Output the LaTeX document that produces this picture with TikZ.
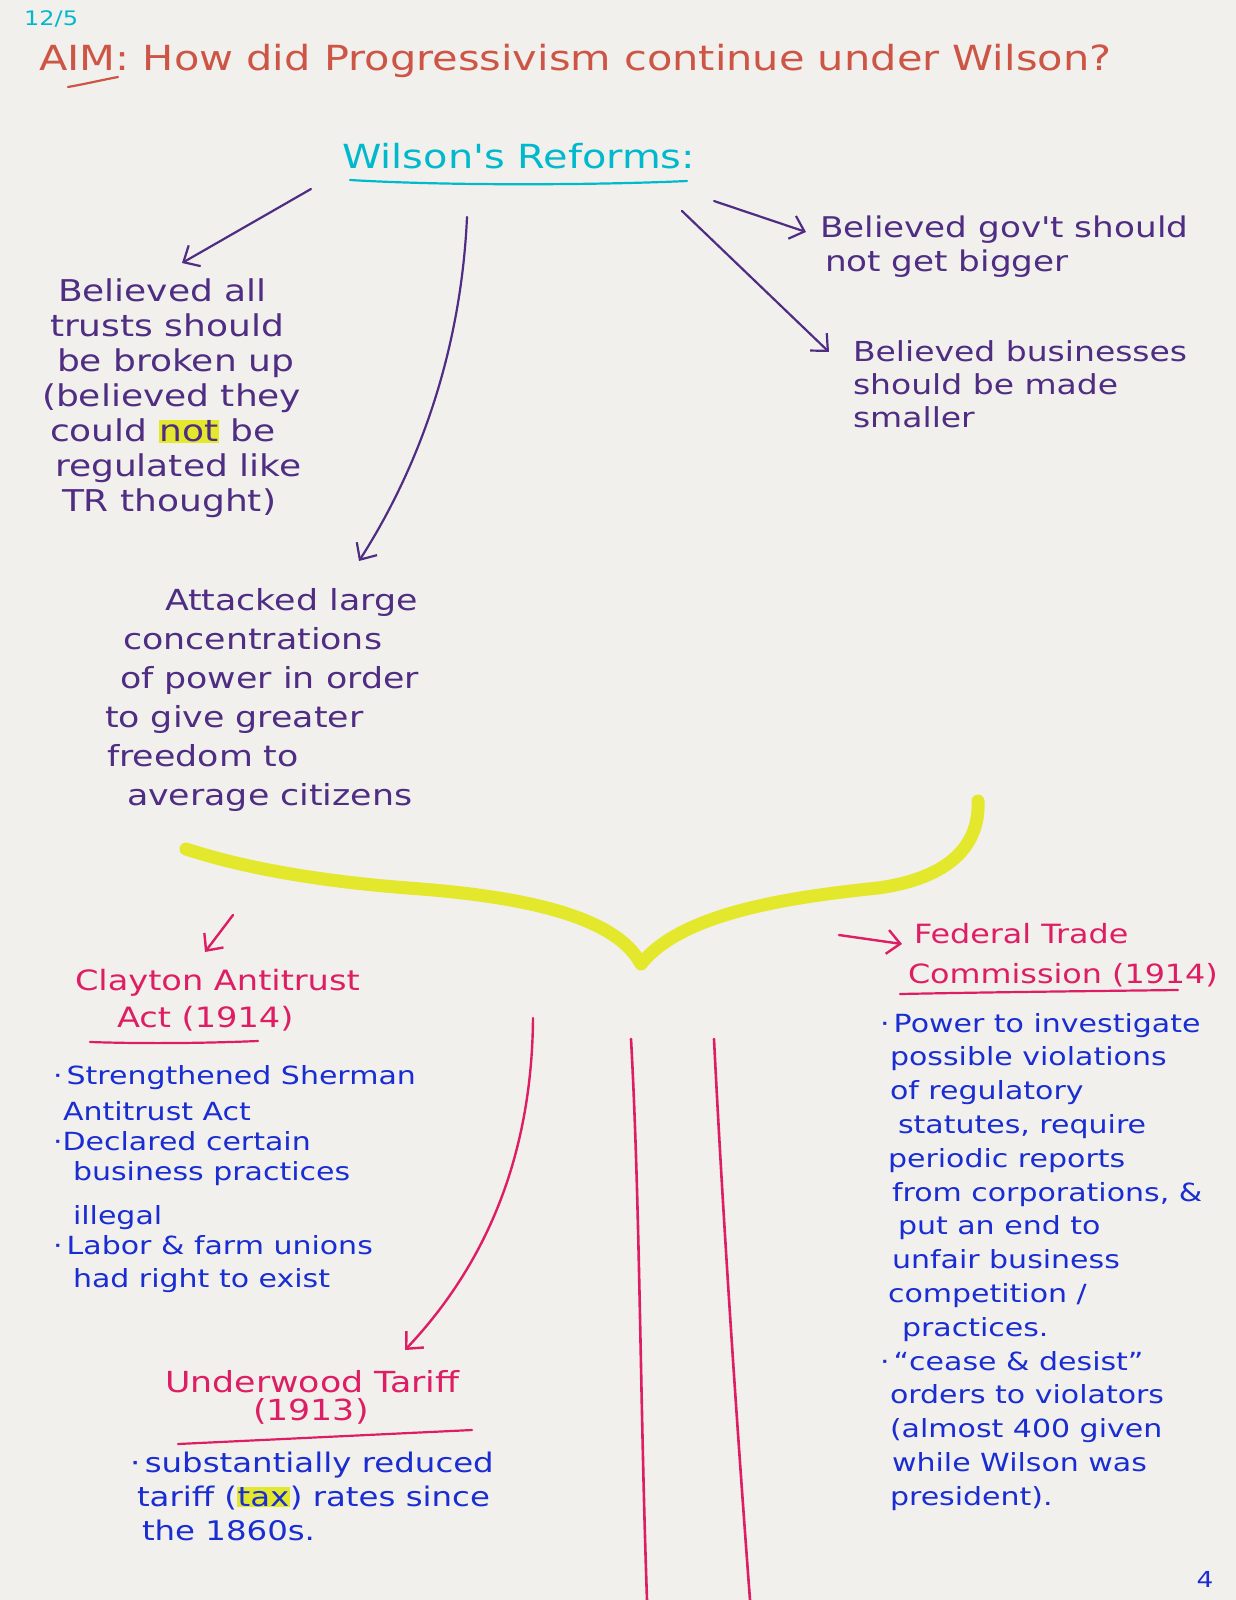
\documentclass[tikz,border=0pt]{standalone}
\usepackage{fontspec}
\setmainfont{DejaVu Sans}
\newfontfamily\hand{DejaVu Sans}[FakeStretch=1.2]
\usetikzlibrary{arrows.meta}
\definecolor{paper}{RGB}{242,240,237}
\definecolor{titlered}{RGB}{205,85,70}
\definecolor{cyanink}{RGB}{0,185,205}
\definecolor{purpink}{RGB}{78,45,130}
\definecolor{hiyel}{RGB}{228,232,45}
\definecolor{pinkink}{RGB}{222,30,100}
\definecolor{blueink}{RGB}{25,45,210}
\setlength{\fboxsep}{0.5pt}
\newcommand{\hilite}[1]{\colorbox{hiyel}{#1}}
\begin{document}
\begin{tikzpicture}[x=1pt,y=-1pt,
  txt/.style={inner sep=0pt, outer sep=0pt, align=left, anchor=north west},
  purptxt/.style={txt, text=purpink, font=\hand\fontsize{30}{35}\selectfont},
  pinktxt/.style={txt, text=pinkink, font=\hand\fontsize{28}{37}\selectfont},
  bluetxt/.style={txt, text=blueink, font=\hand\fontsize{25}{34}\selectfont},
  parrow/.style={draw=purpink, line width=2.2pt, line cap=round, line join=round, -{Straight Barb[length=13pt,width=24pt]}},
  marrow/.style={draw=pinkink, line width=2.4pt, line cap=round, line join=round, -{Straight Barb[length=13pt,width=24pt]}},
  mline/.style={draw=pinkink, line width=2.6pt, line cap=round},
  uline/.style={line width=2.2pt, line cap=round},
]
\fill[paper] (0,0) rectangle (1236,1600);
\useasboundingbox (0,0) rectangle (1236,1600);

% header
\node[anchor=base west, inner sep=0pt, text=cyanink, font=\hand\fontsize{20}{22}\selectfont] (date) at (24,26) {12/5};
\node[anchor=base west, inner sep=0pt, text=titlered, font=\hand\fontsize{34.6}{40}\selectfont] (title) at (39,71) {AIM: How did Progressivism continue under Wilson?};
\draw[uline, draw=titlered] (68,87) .. controls (85,84) and (102,80) .. (118,77);

% heading
\node[anchor=base west, inner sep=0pt, text=cyanink, font=\hand\fontsize{33.2}{38}\selectfont] (head) at (342,168) {Wilson's Reforms:};
\draw[uline, draw=cyanink] (350,180) .. controls (450,186) and (600,185) .. (687,181);

% purple blocks
\node[purptxt] (trusts) at (42,279) {\hspace*{16pt}Believed all\\\hspace*{8pt}trusts should\\\hspace*{15pt}be broken up\\(believed they\\\hspace*{8pt}could \hilite{not} be\\\hspace*{13pt}regulated like\\\hspace*{20pt}TR thought)};
\node[purptxt, font=\hand\fontsize{29}{39}\selectfont] (power) at (105,588) {\hspace*{60pt}Attacked large\\\hspace*{18pt}concentrations\\\hspace*{15pt}of power in order\\to give greater\\\hspace*{2pt}freedom to\\\hspace*{22pt}average citizens};
\node[purptxt, font=\hand\fontsize{28.5}{34}\selectfont] (gov) at (820,216) {Believed gov't should\\\hspace*{5pt}not get bigger};
\node[purptxt, font=\hand\fontsize{27.5}{33}\selectfont] (biz) at (853,341) {Believed businesses\\should be made\\smaller};

% purple arrows
\coordinate (a1s) at (311,189); \coordinate (a1e) at (182,263);
\coordinate (a2s) at (467,217); \coordinate (a2e) at (359,561);
\coordinate (a3s) at (714,201); \coordinate (a3e) at (806,232);
\coordinate (a4s) at (682,211); \coordinate (a4e) at (829,352);
\draw[parrow] (a1s) -- (a1e);
\draw[parrow] (a2s) .. controls (462,330) and (430,450) .. (a2e);
\draw[parrow] (a3s) -- (a3e);
\draw[parrow] (a4s) -- (a4e);

% yellow highlighter branch
\draw[hiyel, line width=13pt, line cap=round, line join=round]
  (186,849) .. controls (250,870) and (330,882) .. (408,888)
  .. controls (520,896) and (615,915) .. (641,964)
  .. controls (680,915) and (780,898) .. (878,888)
  .. controls (950,878) and (980,845) .. (978,801);

% magenta trunk
\coordinate (t1s) at (533,1018); \coordinate (t1e) at (405,1350);
\coordinate (t2s) at (631,1039); \coordinate (t2e) at (647,1600);
\coordinate (t3s) at (714,1039); \coordinate (t3e) at (750,1600);
\draw[marrow] (t1s) .. controls (532,1150) and (490,1260) .. (t1e);
\draw[mline] (t2s) .. controls (640,1200) and (640,1400) .. (t2e);
\draw[mline] (t3s) .. controls (722,1200) and (735,1400) .. (t3e);

% Clayton
\coordinate (c1s) at (233,915); \coordinate (c1e) at (205,952);
\draw[marrow] (c1s) -- (c1e);
\node[pinktxt] (clay) at (75,969) {Clayton Antitrust\\\hspace*{42pt}Act (1914)};
\draw[uline, draw=pinkink] (90,1042) .. controls (150,1044) and (210,1043) .. (258,1041);
\node[bluetxt, font=\hand\fontsize{25}{33}\selectfont] (claylist) at (53,1065) {·\,Strengthened Sherman\\[3pt]\hspace*{10pt}Antitrust Act\\[-3pt]·Declared certain\\[-3pt]\hspace*{20pt}business practices\\[11pt]\hspace*{20pt}illegal\\[-3pt]·\,Labor \& farm unions\\\hspace*{20pt}had right to exist};

% Underwood
\node[pinktxt, font=\hand\fontsize{29}{28}\selectfont] (under) at (165,1370) {Underwood Tariff\\\hspace*{88pt}(1913)};
\draw[uline, draw=pinkink] (178,1444) -- (472,1430);
\node[bluetxt, font=\hand\fontsize{27}{34}\selectfont] (underlist) at (130,1452) {·\,substantially reduced\\\hspace*{7pt}tariff (\hilite{tax}) rates since\\\hspace*{12pt}the 1860s.};

% FTC
\coordinate (f1s) at (839,935); \coordinate (f1e) at (902,944);
\draw[marrow] (f1s) -- (f1e);
\node[pinktxt, font=\hand\fontsize{26.5}{40}\selectfont] (ftc) at (908,923) {\hspace*{6pt}Federal Trade\\Commission (1914)};
\draw[uline, draw=pinkink] (900,994) .. controls (1000,992) and (1100,991) .. (1178,990);
\node[bluetxt, font=\hand\fontsize{25}{33.8}\selectfont] (ftclist) at (880,1013) {·\,Power to investigate\\\hspace*{10pt}possible violations\\\hspace*{10pt}of regulatory\\\hspace*{18pt}statutes, require\\\hspace*{8pt}periodic reports\\\hspace*{12pt}from corporations, \&\\\hspace*{18pt}put an end to\\\hspace*{12pt}unfair business\\\hspace*{8pt}competition /\\\hspace*{22pt}practices.\\·\,“cease \& desist”\\\hspace*{10pt}orders to violators\\\hspace*{10pt}(almost 400 given\\\hspace*{12pt}while Wilson was\\\hspace*{10pt}president).};

\node[anchor=center, inner sep=0pt, text=blueink, font=\hand\fontsize{22}{24}\selectfont] (pagenum) at (1205,1579) {4};
\end{tikzpicture}
\end{document}
